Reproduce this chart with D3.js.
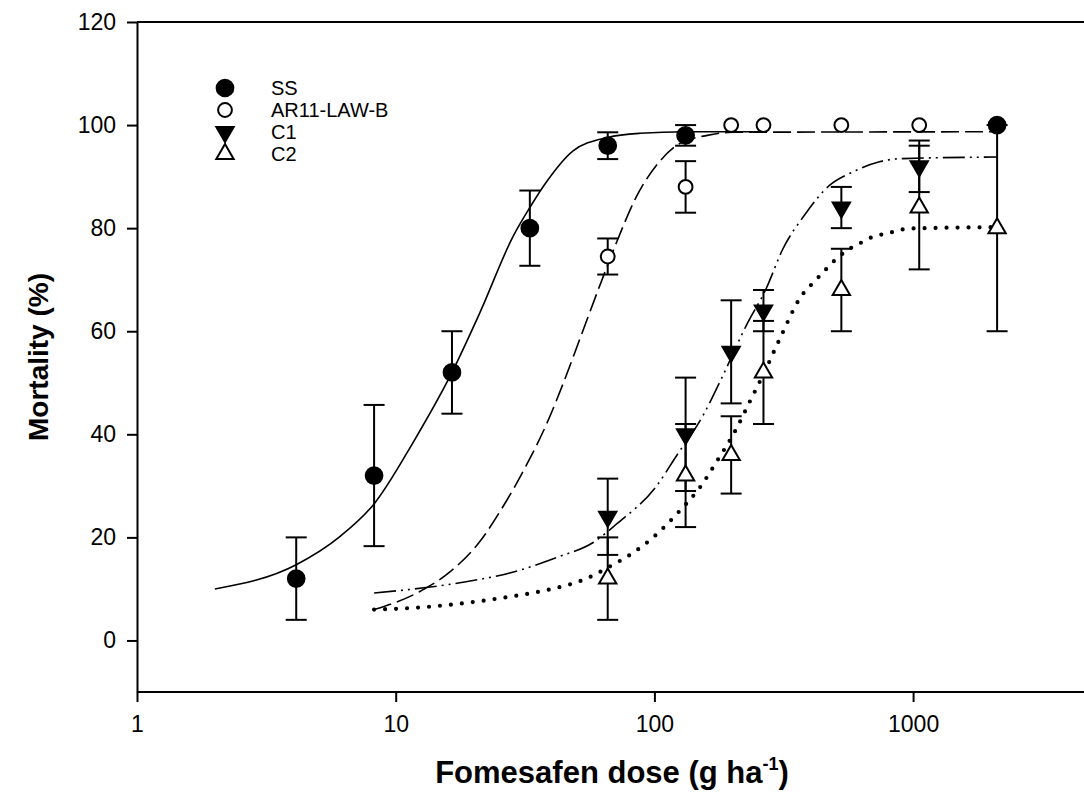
<!DOCTYPE html>
<html><head><meta charset="utf-8">
<script src="https://cdn.jsdelivr.net/npm/d3@7"></script>
<style>body{margin:0;background:#fff} svg{display:block} text{font-family:Arial,"Liberation Sans",sans-serif;fill:#000}</style>
</head><body><svg id="c" width="1084" height="812"></svg>
<script>
// ---- data ----
const seriesNames = ["SS", "AR11-LAW-B", "C1", "C2"];
const xTicks = [1, 10, 100, 1000];
const yTicks = [0, 20, 40, 60, 80, 100, 120];

const ssDose = [4.125, 8.25, 16.5, 33, 66, 132, 2112];
const ssMort = [12, 32, 52, 80, 96, 98, 100];
const ssErr  = [8, 13.7, 8, 7.3, 2.6, 2, 0];

const arDose = [66, 132, 198, 264, 528, 1056, 2112];
const arMort = [74.5, 88, 100, 100, 100, 100, 100];
const arErr  = [3.5, 5, 0, 0, 0, 0, 0];

const c1Dose = [66, 132, 198, 264, 528, 1056];
const c1Mort = [24, 40, 56, 64, 84, 92];
const c1Err  = [7.4, 11, 10, 4, 4, 5];

const c2Dose = [66, 132, 198, 264, 528, 1056, 2112];
const c2Mort = [12, 32, 36, 52, 68, 84, 80];
const c2Err  = [8, 10, 7.5, 10, 8, 12, 20];

// fitted curves
const ssCurveX = [2, 4.125, 6.1, 8.25, 11.7, 16.5, 21.2, 28.5, 33, 38.3, 48.5, 66, 88, 132, 264];
const ssCurveY = [10, 14.7, 20.2, 26.5, 38.5, 52, 63.7, 78.5, 84, 89, 95, 97.6, 98.4, 98.7, 98.7];
const arCurveX = [8.25, 12.4, 16.2, 21, 26, 32, 38.3, 45.7, 51.5, 63.3, 72.4, 85, 105, 125, 160, 200, 2112];
const arCurveY = [6, 9.5, 13.3, 19, 26, 34, 42, 51.5, 58.5, 70.5, 78, 86, 93, 96.4, 98, 98.6, 98.7];
const c1CurveX = [8.25, 17.7, 27.6, 43, 58, 71, 102, 121.6, 154, 184, 226.5, 270, 314, 380, 475, 584, 741, 912, 2112];
const c1CurveY = [9.2, 11.2, 13.1, 16.3, 19, 22.5, 30, 35.8, 43.6, 51.4, 61.1, 68.2, 76, 82.5, 88.3, 90.9, 92.9, 93.5, 93.8];
const c2CurveX = [8.25, 12.4, 18.8, 28.5, 39.4, 54.6, 67.5, 82.7, 102, 125, 150, 173, 207, 233, 270, 309, 364, 422, 460, 504, 560, 630, 698, 776, 860, 950, 2112];
const c2CurveY = [6, 6.4, 7.3, 8.6, 9.9, 12, 14.4, 17, 20.6, 25.1, 29.7, 34.5, 41, 46.2, 52.7, 59.1, 66.3, 70, 72, 74, 75.8, 77.2, 78.3, 78.9, 79.4, 79.9, 80.2];

// ---- chart ----
const svg = d3.select("#c");
const x = d3.scaleLog().domain([1, 5000]).range([137, 137 + 258.7 * Math.log10(5000)]);
const y = d3.scaleLinear().domain([-10, 120]).range([692, 22]);

// axes
const gx = svg.append("g").attr("transform", `translate(0,${y(-10)})`)
  .call(d3.axisBottom(x).tickValues(xTicks).tickFormat(d3.format("d")).tickSize(10).tickSizeOuter(0).tickPadding(14));
const gy = svg.append("g").attr("transform", `translate(${x(1)},0)`)
  .call(d3.axisLeft(y).tickValues(yTicks).tickSize(10).tickSizeOuter(0).tickPadding(11));
[gx, gy].forEach(g => {
  g.select(".domain").attr("stroke", "#000").attr("stroke-width", 2);
  g.selectAll(".tick line").attr("stroke", "#000").attr("stroke-width", 2);
  g.selectAll(".tick text").attr("font-size", 23).attr("font-family", "Arial, 'Liberation Sans', sans-serif").attr("fill", "#000");
});
gx.select(".domain").attr("d", `M${x(1)},0H1084`);
svg.append("line").attr("x1", x(1)).attr("x2", 1084).attr("y1", y(120)).attr("y2", y(120))
  .attr("stroke", "#000").attr("stroke-width", 2);

// curves
const line = d3.line().x(d => x(d[0])).y(d => y(d[1])).curve(d3.curveMonotoneX);
const curves = [
  {xs: ssCurveX, ys: ssCurveY, dash: null, w: 1.6},
  {xs: arCurveX, ys: arCurveY, dash: "18,6", w: 1.6},
  {xs: c1CurveX, ys: c1CurveY, dash: "22,5,2,5,2,5", w: 1.6},
  {xs: c2CurveX, ys: c2CurveY, dash: "0,11", w: 4.2, cap: "round"}
];
curves.forEach(c => {
  svg.append("path").datum(c.xs.map((d, i) => [d, c.ys[i]]))
    .attr("d", line).attr("fill", "none").attr("stroke", "#000")
    .attr("stroke-width", c.w).attr("stroke-dasharray", c.dash)
    .attr("stroke-linecap", c.cap || "butt");
});

// series
const triArea = 130;
const symbols = {
  "SS": {type: d3.symbolCircle, size: 220, fill: "#000", rot: 0},
  "AR11-LAW-B": {type: d3.symbolCircle, size: 150, fill: "#fff", rot: 0},
  "C1": {type: d3.symbolTriangle, size: triArea, fill: "#000", rot: 180},
  "C2": {type: d3.symbolTriangle, size: triArea, fill: "#fff", rot: 0}
};
const series = [
  {name: "C2", dose: c2Dose, m: c2Mort, e: c2Err},
  {name: "C1", dose: c1Dose, m: c1Mort, e: c1Err},
  {name: "AR11-LAW-B", dose: arDose, m: arMort, e: arErr},
  {name: "SS", dose: ssDose, m: ssMort, e: ssErr}
];
const capHalf = 10.5;
series.forEach(s => {
  s.dose.forEach((d, i) => {
    if (s.e[i] <= 0) return;
    const g = svg.append("g").attr("stroke", "#000").attr("stroke-width", 2);
    const cx = x(d), top = y(s.m[i] + s.e[i]), bot = y(s.m[i] - s.e[i]);
    g.append("line").attr("x1", cx).attr("x2", cx).attr("y1", top).attr("y2", bot);
    g.append("line").attr("x1", cx - capHalf).attr("x2", cx + capHalf).attr("y1", top).attr("y2", top);
    g.append("line").attr("x1", cx - capHalf).attr("x2", cx + capHalf).attr("y1", bot).attr("y2", bot);
  });
});
function drawSym(sel, name, cx, cy) {
  const s = symbols[name];
  sel.append("path").attr("d", d3.symbol().type(s.type).size(s.size)())
    .attr("transform", `translate(${cx},${cy}) rotate(${s.rot})`)
    .attr("fill", s.fill).attr("stroke", "#000").attr("stroke-width", 2);
}
series.forEach(s => {
  s.dose.forEach((d, i) => drawSym(svg, s.name, x(d), y(s.m[i])));
});

// legend
const legY = [88, 110, 132, 154];
seriesNames.forEach((n, i) => {
  drawSym(svg, n, 225, legY[i]);
  svg.append("text").attr("x", 271).attr("y", legY[i]).attr("dy", "0.36em")
    .attr("font-size", 20).text(n);
});

// titles
svg.append("text").attr("transform", "translate(38,357) rotate(-90)")
  .attr("text-anchor", "middle").attr("dy", "0.36em")
  .attr("font-size", 28).attr("font-weight", "bold").text("Mortality (%)");
const xt = svg.append("text").attr("x", 612).attr("y", 783).attr("text-anchor", "middle")
  .attr("font-size", 31).attr("font-weight", "bold");
xt.append("tspan").text("Fomesafen dose (g ha");
xt.append("tspan").attr("font-size", 18).attr("dy", -13).text("-1");
xt.append("tspan").attr("dy", 13).text(")");
</script></body></html>
